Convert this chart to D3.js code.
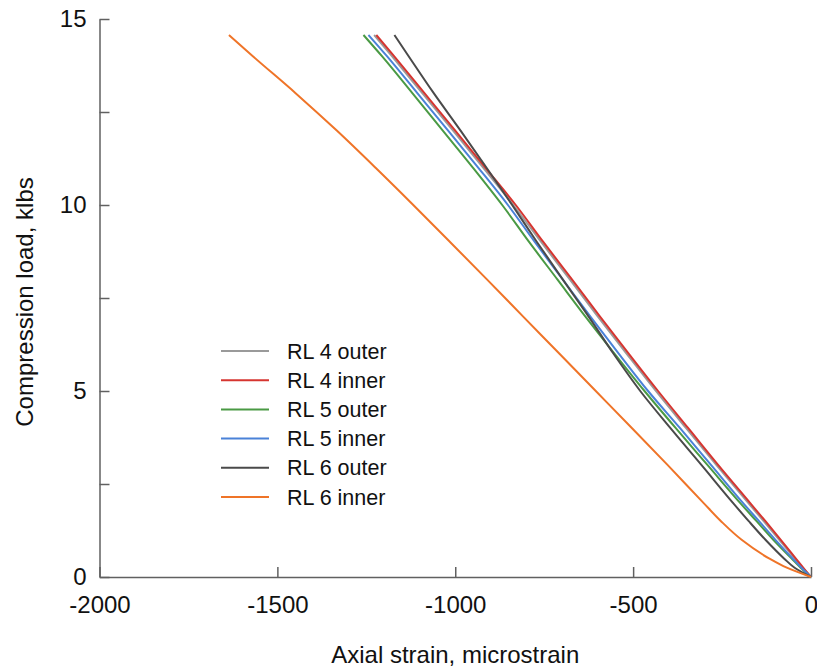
<!DOCTYPE html>
<html>
<head>
<meta charset="utf-8">
<script src="https://cdn.jsdelivr.net/npm/d3@7"></script>
<style>
  body { margin: 0; background: #fff; }
  svg text { font-family: "Liberation Sans", Arial, Helvetica, sans-serif; fill: #111; }
</style>
</head>
<body>
<div id="chart"></div>
<script>
// load levels (klbs) shared by every series
var loads = [0, 0.25, 0.5, 1, 1.5, 2, 3, 4, 5, 6, 7, 8, 9, 10, 11, 12, 13, 14, 14.57];

// axial strain (microstrain) at each load level
var rl4Outer = [0, -24, -46, -89, -133, -177, -265, -351, -436, -518, -599, -678, -758, -837, -921, -1006, -1092, -1178, -1228];
var rl4Inner = [0, -22, -43, -85, -128, -172, -260, -345, -430, -512, -593, -672, -752, -830, -915, -1000, -1086, -1172, -1222];
var rl5Outer = [0, -29, -55, -106, -153, -200, -290, -380, -468, -552, -634, -713, -792, -868, -950, -1035, -1120, -1206, -1258];
var rl5Inner = [0, -27, -52, -100, -146, -192, -280, -368, -458, -540, -620, -698, -776, -852, -935, -1020, -1106, -1192, -1244];
var rl6Outer = [0, -46, -76, -128, -175, -220, -307, -395, -480, -555, -625, -698, -770, -840, -912, -985, -1060, -1131, -1171];
var rl6Inner = [0, -68, -118, -195, -253, -303, -402, -503, -605, -707, -809, -911, -1014, -1118, -1224, -1333, -1448, -1569, -1636];

var seriesNames = ["RL 4 outer", "RL 4 inner", "RL 5 outer", "RL 5 inner", "RL 6 outer", "RL 6 inner"];
var seriesValues = [rl4Outer, rl4Inner, rl5Outer, rl5Inner, rl6Outer, rl6Inner];
var colors = ["#9a9a9a", "#d63530", "#4a9a44", "#4a82d8", "#4a4a4a", "#ef7428"];

var xTicks = [-2000, -1500, -1000, -500, 0];
var yTicks = [0, 2.5, 5, 7.5, 10, 12.5, 15];

var width = 817, height = 667,
    margins = {top: 19, right: 6, bottom: 90, left: 99.5};

var x = d3.scaleLinear().domain([-2000, 0]).range([margins.left, width - margins.right]);
var y = d3.scaleLinear().domain([0, 15]).range([height - margins.bottom, margins.top]);

var svg = d3.select("#chart").append("svg")
    .attr("width", width)
    .attr("height", height);

/*
 * Axes
 */
var xAxis = svg.append("g")
    .attr("transform", "translate(0," + y(0) + ")")
    .call(d3.axisBottom(x)
        .tickValues(xTicks)
        .tickSize(-10)
        .tickSizeOuter(0)
        .tickPadding(19)
        .tickFormat(function(d) { return String(d); }));

var yAxis = svg.append("g")
    .attr("transform", "translate(" + x(-2000) + ",0)")
    .call(d3.axisLeft(y)
        .tickValues(yTicks)
        .tickSize(-10)
        .tickSizeOuter(0)
        .tickPadding(13)
        .tickFormat(function(d) { return d % 5 === 0 ? String(d) : ""; }));

[xAxis, yAxis].forEach(function(a) {
    a.selectAll("path, line").attr("stroke", "#606060").attr("stroke-width", 1.5);
    a.selectAll("text").style("font-size", "24px").attr("fill", "#111");
});

svg.append("text")
    .attr("x", (x(-2000) + x(0)) / 2)
    .attr("y", 663)
    .attr("text-anchor", "middle")
    .style("font-size", "24px")
    .text("Axial strain, microstrain");

svg.append("text")
    .attr("transform", "translate(33," + ((y(0) + y(15)) / 2 + 4) + ") rotate(-90)")
    .attr("text-anchor", "middle")
    .style("font-size", "24px")
    .text("Compression load, klbs");

/*
 * Lines
 */
var line = d3.line()
    .x(function(d) { return x(d[0]); })
    .y(function(d) { return y(d[1]); })
    .curve(d3.curveMonotoneY);

seriesValues.forEach(function(vals, k) {
    var pts = vals.map(function(v, i) { return [v, loads[i]]; });
    svg.append("path")
        .datum(pts)
        .attr("fill", "none")
        .attr("stroke", colors[k])
        .attr("stroke-width", 2)
        .attr("d", line);
});

/*
 * Legend
 */
var legend = svg.append("g");
seriesNames.forEach(function(name, k) {
    var ly = 351 + k * 29.2;
    legend.append("line")
        .attr("x1", 221).attr("x2", 269)
        .attr("y1", ly).attr("y2", ly)
        .attr("stroke", colors[k])
        .attr("stroke-width", 2);
    legend.append("text")
        .attr("x", 287)
        .attr("y", ly)
        .attr("dy", "0.35em")
        .style("font-size", "21.5px")
        .text(name);
});
</script>
</body>
</html>
